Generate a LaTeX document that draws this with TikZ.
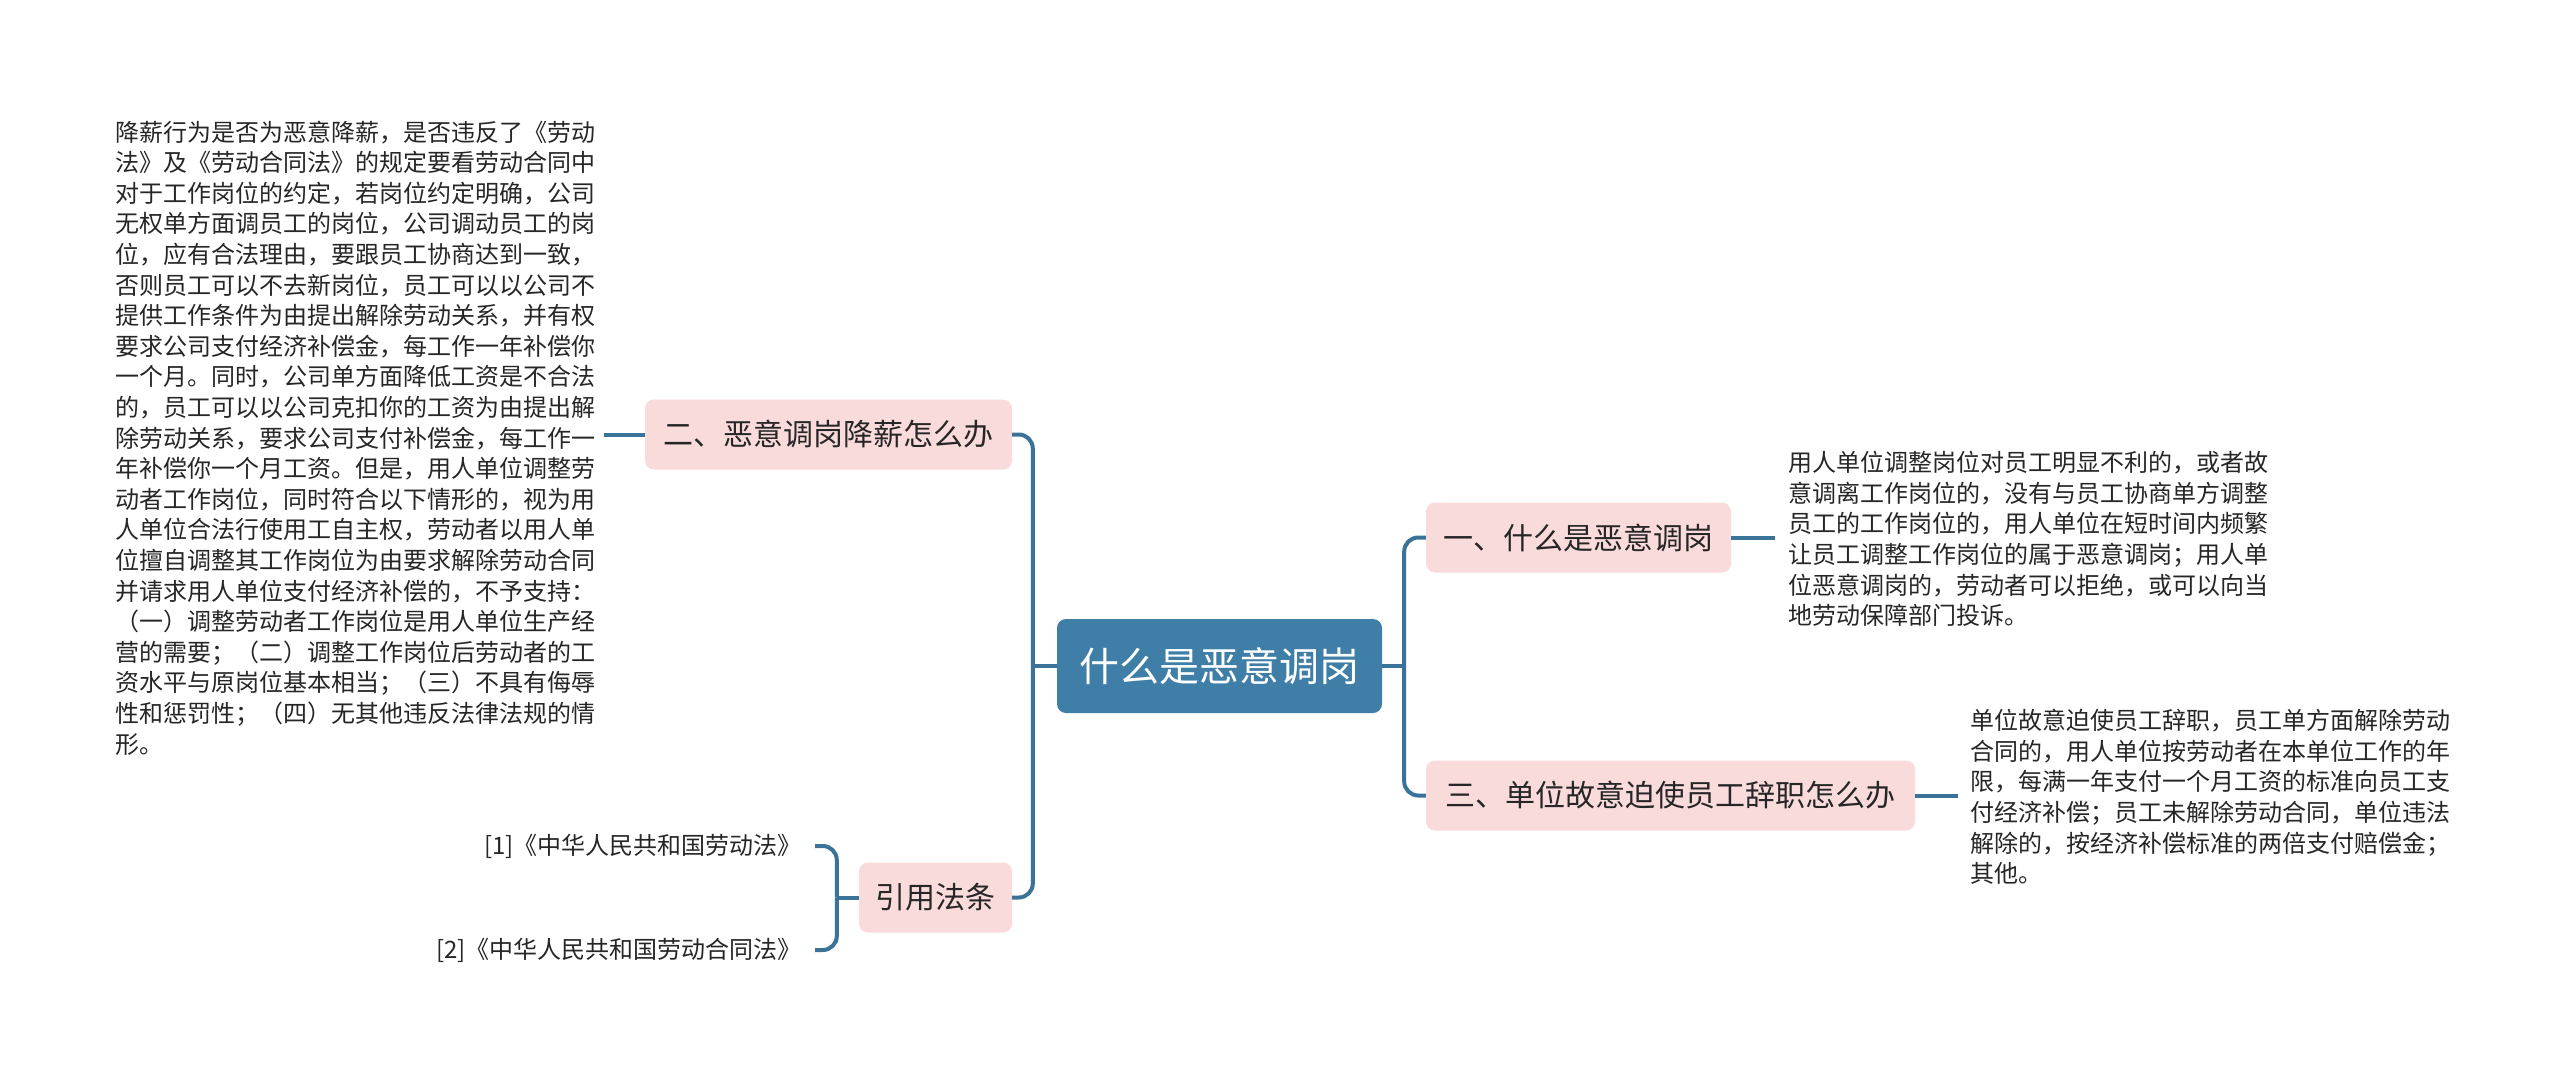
\documentclass[tikz,border=0pt]{standalone}
\usepackage{fontspec}
\setmainfont{Noto Sans CJK SC}
\definecolor{mainblue}{HTML}{3F7EA7}
\definecolor{connblue}{HTML}{3B7398}
\definecolor{pinkfill}{HTML}{FADBDB}
\definecolor{textdark}{HTML}{262626}
\begin{document}
\begin{tikzpicture}[x=1pt,y=-1pt,
  root/.style={rectangle, rounded corners=9pt, fill=mainblue, text=white, minimum width=325pt, minimum height=94pt, inner sep=0pt, font=\fontsize{40}{48}\selectfont},
  topic/.style={rectangle, rounded corners=9pt, fill=pinkfill, text=textdark, minimum height=70pt, inner sep=0pt, font=\fontsize{30}{36}\selectfont},
  body/.style={inner sep=0pt, align=left, text=textdark, font=\fontsize{24}{30.6}\selectfont},
  reftext/.style={inner sep=0pt, text=textdark, font=\fontsize{24}{30}\selectfont},
  conn/.style={draw=connblue, line width=4pt, rounded corners=14pt}
]
\fill[white] (0,0) rectangle (2560,1080);
\useasboundingbox (0,0) rectangle (2560,1080);

% central
\node[root] (c) at (1219.5,666) {什么是恶意调岗};

% right topics
\node[topic, minimum width=305pt] (n1) at (1578.5,537.5) {一、什么是恶意调岗};
\node[topic, minimum width=489pt] (n3) at (1670.5,795.5) {三、单位故意迫使员工辞职怎么办};

% left topics
\node[topic, minimum width=367pt] (n2) at (828.5,434.5) {二、恶意调岗降薪怎么办};
\node[topic, minimum width=153pt] (ref) at (935.5,897.5) {引用法条};

% body texts
\node[body, anchor=west] (t1) at (1788,539) {用人单位调整岗位对员工明显不利的，或者故\\意调离工作岗位的，没有与员工协商单方调整\\员工的工作岗位的，用人单位在短时间内频繁\\让员工调整工作岗位的属于恶意调岗；用人单\\位恶意调岗的，劳动者可以拒绝，或可以向当\\地劳动保障部门投诉。};

\node[body, anchor=west] (t3) at (1970,797) {单位故意迫使员工辞职，员工单方面解除劳动\\合同的，用人单位按劳动者在本单位工作的年\\限，每满一年支付一个月工资的标准向员工支\\付经济补偿；员工未解除劳动合同，单位违法\\解除的，按经济补偿标准的两倍支付赔偿金；\\其他。};

\node[body, anchor=west] (t2) at (115,438) {降薪行为是否为恶意降薪，是否违反了《劳动\\法》及《劳动合同法》的规定要看劳动合同中\\对于工作岗位的约定，若岗位约定明确，公司\\无权单方面调员工的岗位，公司调动员工的岗\\位，应有合法理由，要跟员工协商达到一致，\\否则员工可以不去新岗位，员工可以以公司不\\提供工作条件为由提出解除劳动关系，并有权\\要求公司支付经济补偿金，每工作一年补偿你\\一个月。同时，公司单方面降低工资是不合法\\的，员工可以以公司克扣你的工资为由提出解\\除劳动关系，要求公司支付补偿金，每工作一\\年补偿你一个月工资。但是，用人单位调整劳\\动者工作岗位，同时符合以下情形的，视为用\\人单位合法行使用工自主权，劳动者以用人单\\位擅自调整其工作岗位为由要求解除劳动合同\\并请求用人单位支付经济补偿的，不予支持：\\（一）调整劳动者工作岗位是用人单位生产经\\营的需要；（二）调整工作岗位后劳动者的工\\资水平与原岗位基本相当；（三）不具有侮辱\\性和惩罚性；（四）无其他违反法律法规的情\\形。};

\node[reftext, anchor=east] (r1) at (802,846) {[1]《中华人民共和国劳动法》};
\node[reftext, anchor=east] (r2) at (802,950) {[2]《中华人民共和国劳动合同法》};

% junction coordinates
\coordinate (rb) at ([xshift=22pt]c.east);
\coordinate (lb) at ([xshift=-24pt]c.west);
\coordinate (fb) at ([xshift=-22pt]ref.west);

% connectors right
\draw[conn] (c.east) -- (rb);
\draw[conn] (rb) |- (n1.west);
\draw[conn] (rb) |- (n3.west);
\draw[conn] (n1.east) -- ([xshift=-13pt]t1.west |- n1.east);
\draw[conn] (n3.east) -- ([xshift=-12pt]t3.west |- n3.east);

% connectors left
\draw[conn] (c.west) -- (lb);
\draw[conn] (lb) |- (n2.east);
\draw[conn] (lb) |- (ref.east);
\draw[conn] (n2.west) -- ([xshift=9pt]t2.east |- n2.west);
\draw[conn] (ref.west) -- (fb);
\draw[conn] (fb) |- ([xshift=13pt]r1.east);
\draw[conn] (fb) |- ([xshift=13pt]r2.east);
\end{tikzpicture}
\end{document}
